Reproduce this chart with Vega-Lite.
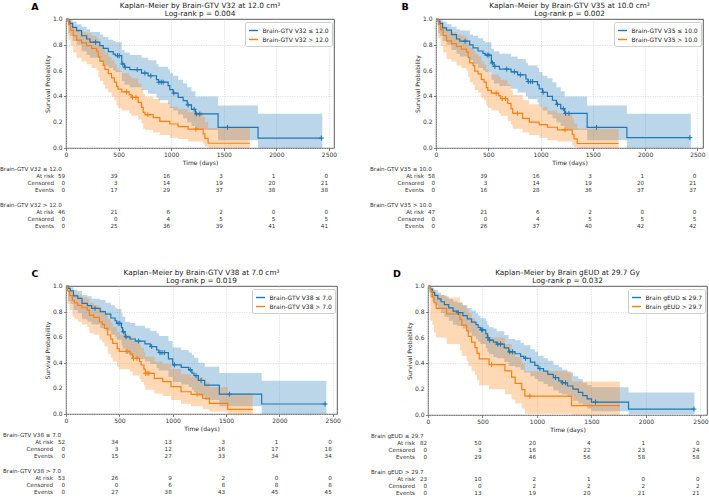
{
  "$schema": "https://vega.github.io/schema/vega-lite/v6.json",
  "padding": {"left": 0, "top": 1, "right": 0, "bottom": 0},
  "config": {
    "font": "DejaVu Sans",
    "view": {"stroke": "#333333", "strokeWidth": 0.8},
    "title": {"fontSize": 7.3, "fontWeight": "normal", "color": "#222222", "offset": -15.5, "lineHeight": 8.5, "frame": "group"},
    "axis": {
      "domain": false, "grid": true, "gridColor": "#cfcfcf", "gridDash": [1.2, 1.2], "gridWidth": 0.6,
      "tickColor": "#333333", "tickSize": 2.5, "tickWidth": 0.6, "labelOverlap": false, "labelFlush": false,
      "labelFontSize": 6, "labelColor": "#333333", "labelPadding": 1,
      "titleFontSize": 6, "titleFontWeight": "normal", "titleColor": "#222222", "titlePadding": 2
    },
    "legend": {
      "orient": "top-right", "offset": 2.5, "padding": 3, "fillColor": "white", "strokeColor": "#cccccc",
      "cornerRadius": 2, "labelFontSize": 6, "labelColor": "#222222", "symbolType": "stroke",
      "symbolSize": 81, "symbolStrokeWidth": 1.4, "rowPadding": 0, "labelOffset": 3.5, "labelLimit": 300
    },
    "text": {"fontSize": 5.6, "color": "#333333"}
  },
  "datasets": {
    "yticks": [{"v":0},{"v":0.2},{"v":0.4},{"v":0.6},{"v":0.8},{"v":1}],
    "kmA": [
      {"g":"le","t":0,"s":1,"lo":1,"hi":1},{"g":"le","t":20,"s":0.983,"lo":0.89,"hi":0.998},{"g":"le","t":38,"s":0.966,"lo":0.87,"hi":0.99},
      {"g":"le","t":63,"s":0.935,"lo":0.83,"hi":0.98},{"g":"le","t":101,"s":0.91,"lo":0.8,"hi":0.96},{"g":"le","t":148,"s":0.87,"lo":0.75,"hi":0.94},
      {"g":"le","t":196,"s":0.845,"lo":0.72,"hi":0.92},{"g":"le","t":228,"s":0.82,"lo":0.7,"hi":0.9},{"g":"le","t":322,"s":0.793,"lo":0.67,"hi":0.88},
      {"g":"le","t":354,"s":0.772,"lo":0.64,"hi":0.86},{"g":"le","t":402,"s":0.747,"lo":0.62,"hi":0.84},{"g":"le","t":449,"s":0.728,"lo":0.6,"hi":0.83},
      {"g":"le","t":470,"s":0.716,"lo":0.59,"hi":0.82},{"g":"le","t":530,"s":0.651,"lo":0.52,"hi":0.76},{"g":"le","t":555,"s":0.625,"lo":0.49,"hi":0.74},
      {"g":"le","t":607,"s":0.607,"lo":0.47,"hi":0.72},{"g":"le","t":718,"s":0.581,"lo":0.45,"hi":0.7},{"g":"le","t":781,"s":0.56,"lo":0.42,"hi":0.68},
      {"g":"le","t":860,"s":0.53,"lo":0.39,"hi":0.65},{"g":"le","t":880,"s":0.51,"lo":0.37,"hi":0.63},{"g":"le","t":971,"s":0.483,"lo":0.34,"hi":0.61},
      {"g":"le","t":987,"s":0.452,"lo":0.31,"hi":0.58},{"g":"le","t":1019,"s":0.426,"lo":0.29,"hi":0.56},{"g":"le","t":1066,"s":0.393,"lo":0.26,"hi":0.53},
      {"g":"le","t":1114,"s":0.367,"lo":0.23,"hi":0.5},{"g":"le","t":1152,"s":0.334,"lo":0.2,"hi":0.47},{"g":"le","t":1193,"s":0.3,"lo":0.17,"hi":0.44},
      {"g":"le","t":1231,"s":0.264,"lo":0.14,"hi":0.4},{"g":"le","t":1446,"s":0.16,"lo":0.06,"hi":0.33},{"g":"le","t":1826,"s":0.077,"lo":0,"hi":0.265},
      {"g":"le","t":2437,"s":0.077,"lo":0,"hi":0.265},
      {"g":"gt","t":0,"s":1,"lo":1,"hi":1},{"g":"gt","t":22,"s":0.957,"lo":0.84,"hi":0.99},{"g":"gt","t":44,"s":0.913,"lo":0.79,"hi":0.97},
      {"g":"gt","t":69,"s":0.87,"lo":0.74,"hi":0.94},{"g":"gt","t":101,"s":0.837,"lo":0.7,"hi":0.92},{"g":"gt","t":148,"s":0.815,"lo":0.67,"hi":0.9},
      {"g":"gt","t":196,"s":0.793,"lo":0.65,"hi":0.89},{"g":"gt","t":243,"s":0.772,"lo":0.62,"hi":0.87},{"g":"gt","t":291,"s":0.75,"lo":0.6,"hi":0.85},
      {"g":"gt","t":307,"s":0.707,"lo":0.55,"hi":0.82},{"g":"gt","t":322,"s":0.674,"lo":0.52,"hi":0.79},{"g":"gt","t":354,"s":0.641,"lo":0.49,"hi":0.77},
      {"g":"gt","t":370,"s":0.609,"lo":0.46,"hi":0.74},{"g":"gt","t":402,"s":0.576,"lo":0.43,"hi":0.71},{"g":"gt","t":433,"s":0.543,"lo":0.4,"hi":0.68},
      {"g":"gt","t":460,"s":0.511,"lo":0.37,"hi":0.65},{"g":"gt","t":481,"s":0.478,"lo":0.33,"hi":0.62},{"g":"gt","t":495,"s":0.457,"lo":0.31,"hi":0.6},
      {"g":"gt","t":530,"s":0.435,"lo":0.29,"hi":0.58},{"g":"gt","t":600,"s":0.414,"lo":0.27,"hi":0.56},{"g":"gt","t":620,"s":0.393,"lo":0.25,"hi":0.54},
      {"g":"gt","t":686,"s":0.354,"lo":0.22,"hi":0.5},{"g":"gt","t":718,"s":0.315,"lo":0.19,"hi":0.46},{"g":"gt","t":734,"s":0.276,"lo":0.15,"hi":0.42},
      {"g":"gt","t":750,"s":0.258,"lo":0.14,"hi":0.4},{"g":"gt","t":829,"s":0.236,"lo":0.12,"hi":0.38},{"g":"gt","t":892,"s":0.207,"lo":0.1,"hi":0.35},
      {"g":"gt","t":987,"s":0.186,"lo":0.08,"hi":0.32},{"g":"gt","t":1066,"s":0.165,"lo":0.07,"hi":0.3},{"g":"gt","t":1161,"s":0.147,"lo":0.05,"hi":0.28},
      {"g":"gt","t":1304,"s":0.11,"lo":0.03,"hi":0.24},{"g":"gt","t":1320,"s":0.074,"lo":0.01,"hi":0.2},{"g":"gt","t":1351,"s":0.037,"lo":0,"hi":0.155},
      {"g":"gt","t":1747,"s":0.037,"lo":0,"hi":0.155}
    ],
    "cenA": [
      {"g":"le","t":281,"s":0.82},{"g":"le","t":490,"s":0.716},{"g":"le","t":506,"s":0.716},{"g":"le","t":540,"s":0.651},{"g":"le","t":563,"s":0.625},
      {"g":"le","t":677,"s":0.607},{"g":"le","t":750,"s":0.581},{"g":"le","t":807,"s":0.56},{"g":"le","t":883,"s":0.51},{"g":"le","t":905,"s":0.51},
      {"g":"le","t":924,"s":0.51},{"g":"le","t":1025,"s":0.426},{"g":"le","t":1161,"s":0.334},{"g":"le","t":1218,"s":0.3},{"g":"le","t":1240,"s":0.264},
      {"g":"le","t":1272,"s":0.264},{"g":"le","t":1535,"s":0.16},{"g":"le","t":2428,"s":0.077},
      {"g":"gt","t":576,"s":0.435},{"g":"gt","t":633,"s":0.393},{"g":"gt","t":665,"s":0.393},{"g":"gt","t":778,"s":0.258},{"g":"gt","t":1234,"s":0.147}
    ],
    "kmB": [
      {"g":"le","t":0,"s":1,"lo":1,"hi":1},{"g":"le","t":20,"s":0.983,"lo":0.89,"hi":0.998},{"g":"le","t":38,"s":0.966,"lo":0.87,"hi":0.99},
      {"g":"le","t":63,"s":0.931,"lo":0.83,"hi":0.98},{"g":"le","t":101,"s":0.914,"lo":0.8,"hi":0.96},{"g":"le","t":148,"s":0.879,"lo":0.76,"hi":0.94},
      {"g":"le","t":196,"s":0.845,"lo":0.73,"hi":0.92},{"g":"le","t":228,"s":0.828,"lo":0.71,"hi":0.91},{"g":"le","t":322,"s":0.8,"lo":0.68,"hi":0.88},
      {"g":"le","t":354,"s":0.776,"lo":0.65,"hi":0.87},{"g":"le","t":402,"s":0.752,"lo":0.62,"hi":0.85},{"g":"le","t":449,"s":0.733,"lo":0.6,"hi":0.83},
      {"g":"le","t":470,"s":0.72,"lo":0.59,"hi":0.82},{"g":"le","t":530,"s":0.66,"lo":0.53,"hi":0.77},{"g":"le","t":555,"s":0.632,"lo":0.5,"hi":0.75},
      {"g":"le","t":607,"s":0.612,"lo":0.48,"hi":0.73},{"g":"le","t":718,"s":0.59,"lo":0.46,"hi":0.71},{"g":"le","t":781,"s":0.567,"lo":0.43,"hi":0.69},
      {"g":"le","t":860,"s":0.535,"lo":0.4,"hi":0.66},{"g":"le","t":880,"s":0.515,"lo":0.38,"hi":0.64},{"g":"le","t":971,"s":0.49,"lo":0.35,"hi":0.62},
      {"g":"le","t":987,"s":0.458,"lo":0.32,"hi":0.59},{"g":"le","t":1019,"s":0.432,"lo":0.29,"hi":0.56},{"g":"le","t":1066,"s":0.4,"lo":0.26,"hi":0.54},
      {"g":"le","t":1114,"s":0.37,"lo":0.23,"hi":0.51},{"g":"le","t":1152,"s":0.338,"lo":0.2,"hi":0.47},{"g":"le","t":1193,"s":0.305,"lo":0.17,"hi":0.44},
      {"g":"le","t":1231,"s":0.268,"lo":0.14,"hi":0.4},{"g":"le","t":1446,"s":0.16,"lo":0.06,"hi":0.33},{"g":"le","t":1826,"s":0.08,"lo":0,"hi":0.265},
      {"g":"le","t":2437,"s":0.08,"lo":0,"hi":0.265},
      {"g":"gt","t":0,"s":1,"lo":1,"hi":1},{"g":"gt","t":22,"s":0.957,"lo":0.85,"hi":0.99},{"g":"gt","t":44,"s":0.915,"lo":0.79,"hi":0.97},
      {"g":"gt","t":69,"s":0.872,"lo":0.74,"hi":0.94},{"g":"gt","t":101,"s":0.83,"lo":0.69,"hi":0.91},{"g":"gt","t":148,"s":0.809,"lo":0.67,"hi":0.9},
      {"g":"gt","t":196,"s":0.787,"lo":0.64,"hi":0.88},{"g":"gt","t":243,"s":0.766,"lo":0.62,"hi":0.87},{"g":"gt","t":291,"s":0.745,"lo":0.6,"hi":0.85},
      {"g":"gt","t":307,"s":0.702,"lo":0.55,"hi":0.81},{"g":"gt","t":322,"s":0.66,"lo":0.51,"hi":0.78},{"g":"gt","t":354,"s":0.638,"lo":0.49,"hi":0.76},
      {"g":"gt","t":370,"s":0.596,"lo":0.45,"hi":0.73},{"g":"gt","t":402,"s":0.574,"lo":0.43,"hi":0.71},{"g":"gt","t":433,"s":0.532,"lo":0.39,"hi":0.67},
      {"g":"gt","t":460,"s":0.511,"lo":0.37,"hi":0.65},{"g":"gt","t":481,"s":0.468,"lo":0.33,"hi":0.61},{"g":"gt","t":495,"s":0.447,"lo":0.31,"hi":0.59},
      {"g":"gt","t":530,"s":0.425,"lo":0.29,"hi":0.57},{"g":"gt","t":600,"s":0.404,"lo":0.27,"hi":0.55},{"g":"gt","t":620,"s":0.383,"lo":0.25,"hi":0.53},
      {"g":"gt","t":686,"s":0.345,"lo":0.21,"hi":0.49},{"g":"gt","t":718,"s":0.306,"lo":0.18,"hi":0.45},{"g":"gt","t":734,"s":0.268,"lo":0.15,"hi":0.41},
      {"g":"gt","t":829,"s":0.23,"lo":0.12,"hi":0.37},{"g":"gt","t":892,"s":0.201,"lo":0.1,"hi":0.34},{"g":"gt","t":987,"s":0.181,"lo":0.08,"hi":0.32},
      {"g":"gt","t":1066,"s":0.161,"lo":0.06,"hi":0.29},{"g":"gt","t":1161,"s":0.141,"lo":0.05,"hi":0.27},{"g":"gt","t":1304,"s":0.105,"lo":0.02,"hi":0.23},
      {"g":"gt","t":1320,"s":0.07,"lo":0.01,"hi":0.19},{"g":"gt","t":1351,"s":0.035,"lo":0,"hi":0.15},{"g":"gt","t":1747,"s":0.035,"lo":0,"hi":0.15}
    ],
    "cenB": [
      {"g":"le","t":278,"s":0.828},{"g":"le","t":490,"s":0.72},{"g":"le","t":506,"s":0.72},{"g":"le","t":540,"s":0.66},{"g":"le","t":563,"s":0.632},
      {"g":"le","t":677,"s":0.612},{"g":"le","t":750,"s":0.59},{"g":"le","t":807,"s":0.567},{"g":"le","t":883,"s":0.515},{"g":"le","t":905,"s":0.515},
      {"g":"le","t":924,"s":0.515},{"g":"le","t":1025,"s":0.432},{"g":"le","t":1161,"s":0.338},{"g":"le","t":1218,"s":0.305},{"g":"le","t":1240,"s":0.268},
      {"g":"le","t":1272,"s":0.268},{"g":"le","t":1535,"s":0.16},{"g":"le","t":2428,"s":0.08},
      {"g":"gt","t":576,"s":0.425},{"g":"gt","t":633,"s":0.383},{"g":"gt","t":665,"s":0.383},{"g":"gt","t":778,"s":0.268},{"g":"gt","t":1234,"s":0.141}
    ],
    "kmC": [
      {"g":"le","t":0,"s":1,"lo":1,"hi":1},{"g":"le","t":20,"s":0.981,"lo":0.88,"hi":0.997},{"g":"le","t":40,"s":0.962,"lo":0.86,"hi":0.99},
      {"g":"le","t":70,"s":0.923,"lo":0.81,"hi":0.97},{"g":"le","t":110,"s":0.904,"lo":0.79,"hi":0.96},{"g":"le","t":150,"s":0.865,"lo":0.74,"hi":0.93},
      {"g":"le","t":200,"s":0.846,"lo":0.72,"hi":0.92},{"g":"le","t":240,"s":0.825,"lo":0.7,"hi":0.9},{"g":"le","t":320,"s":0.8,"lo":0.67,"hi":0.89},
      {"g":"le","t":370,"s":0.78,"lo":0.65,"hi":0.87},{"g":"le","t":420,"s":0.75,"lo":0.62,"hi":0.85},{"g":"le","t":460,"s":0.728,"lo":0.6,"hi":0.83},
      {"g":"le","t":475,"s":0.708,"lo":0.58,"hi":0.82},{"g":"le","t":520,"s":0.675,"lo":0.54,"hi":0.79},{"g":"le","t":530,"s":0.642,"lo":0.51,"hi":0.76},
      {"g":"le","t":555,"s":0.603,"lo":0.47,"hi":0.72},{"g":"le","t":600,"s":0.586,"lo":0.45,"hi":0.71},{"g":"le","t":650,"s":0.57,"lo":0.43,"hi":0.69},
      {"g":"le","t":740,"s":0.548,"lo":0.41,"hi":0.67},{"g":"le","t":790,"s":0.527,"lo":0.39,"hi":0.65},{"g":"le","t":850,"s":0.5,"lo":0.36,"hi":0.63},
      {"g":"le","t":870,"s":0.48,"lo":0.34,"hi":0.61},{"g":"le","t":960,"s":0.43,"lo":0.29,"hi":0.57},{"g":"le","t":1000,"s":0.384,"lo":0.25,"hi":0.52},
      {"g":"le","t":1080,"s":0.365,"lo":0.23,"hi":0.5},{"g":"le","t":1150,"s":0.345,"lo":0.21,"hi":0.48},{"g":"le","t":1180,"s":0.32,"lo":0.19,"hi":0.46},
      {"g":"le","t":1200,"s":0.3,"lo":0.17,"hi":0.44},{"g":"le","t":1240,"s":0.262,"lo":0.14,"hi":0.4},{"g":"le","t":1300,"s":0.225,"lo":0.11,"hi":0.37},
      {"g":"le","t":1437,"s":0.155,"lo":0.06,"hi":0.32},{"g":"le","t":1834,"s":0.078,"lo":0,"hi":0.26},{"g":"le","t":2440,"s":0.078,"lo":0,"hi":0.26},
      {"g":"gt","t":0,"s":1,"lo":1,"hi":1},{"g":"gt","t":15,"s":0.962,"lo":0.86,"hi":0.99},{"g":"gt","t":35,"s":0.925,"lo":0.81,"hi":0.97},
      {"g":"gt","t":60,"s":0.887,"lo":0.76,"hi":0.95},{"g":"gt","t":80,"s":0.868,"lo":0.74,"hi":0.94},{"g":"gt","t":110,"s":0.849,"lo":0.72,"hi":0.93},
      {"g":"gt","t":150,"s":0.83,"lo":0.7,"hi":0.91},{"g":"gt","t":200,"s":0.811,"lo":0.68,"hi":0.9},{"g":"gt","t":219,"s":0.773,"lo":0.63,"hi":0.87},
      {"g":"gt","t":260,"s":0.755,"lo":0.62,"hi":0.85},{"g":"gt","t":313,"s":0.72,"lo":0.58,"hi":0.83},{"g":"gt","t":340,"s":0.7,"lo":0.56,"hi":0.81},
      {"g":"gt","t":360,"s":0.669,"lo":0.53,"hi":0.78},{"g":"gt","t":391,"s":0.617,"lo":0.47,"hi":0.74},{"g":"gt","t":420,"s":0.585,"lo":0.44,"hi":0.71},
      {"g":"gt","t":438,"s":0.552,"lo":0.41,"hi":0.68},{"g":"gt","t":480,"s":0.51,"lo":0.37,"hi":0.64},{"g":"gt","t":500,"s":0.49,"lo":0.35,"hi":0.62},
      {"g":"gt","t":600,"s":0.47,"lo":0.33,"hi":0.6},{"g":"gt","t":625,"s":0.435,"lo":0.3,"hi":0.57},{"g":"gt","t":690,"s":0.41,"lo":0.27,"hi":0.54},
      {"g":"gt","t":703,"s":0.383,"lo":0.25,"hi":0.52},{"g":"gt","t":730,"s":0.35,"lo":0.22,"hi":0.48},{"g":"gt","t":744,"s":0.318,"lo":0.19,"hi":0.45},
      {"g":"gt","t":828,"s":0.279,"lo":0.16,"hi":0.41},{"g":"gt","t":906,"s":0.253,"lo":0.14,"hi":0.39},{"g":"gt","t":984,"s":0.214,"lo":0.11,"hi":0.35},
      {"g":"gt","t":1078,"s":0.174,"lo":0.08,"hi":0.31},{"g":"gt","t":1172,"s":0.154,"lo":0.06,"hi":0.29},{"g":"gt","t":1281,"s":0.122,"lo":0.04,"hi":0.25},
      {"g":"gt","t":1344,"s":0.083,"lo":0.02,"hi":0.21},{"g":"gt","t":1516,"s":0.036,"lo":0,"hi":0.16},{"g":"gt","t":1750,"s":0.036,"lo":0,"hi":0.16}
    ],
    "cenC": [
      {"g":"le","t":272,"s":0.825},{"g":"le","t":489,"s":0.708},{"g":"le","t":505,"s":0.708},{"g":"le","t":538,"s":0.642},{"g":"le","t":563,"s":0.603},
      {"g":"le","t":681,"s":0.57},{"g":"le","t":803,"s":0.527},{"g":"le","t":881,"s":0.48},{"g":"le","t":900,"s":0.48},{"g":"le","t":922,"s":0.48},
      {"g":"le","t":1016,"s":0.384},{"g":"le","t":1166,"s":0.345},{"g":"le","t":1219,"s":0.3},{"g":"le","t":1266,"s":0.262},{"g":"le","t":1532,"s":0.155},
      {"g":"le","t":2428,"s":0.078},
      {"g":"gt","t":573,"s":0.49},{"g":"gt","t":633,"s":0.435},{"g":"gt","t":665,"s":0.435},{"g":"gt","t":745,"s":0.318},{"g":"gt","t":760,"s":0.318},
      {"g":"gt","t":776,"s":0.318},{"g":"gt","t":1228,"s":0.154}
    ],
    "kmD": [
      {"g":"le","t":0,"s":1,"lo":1,"hi":1},{"g":"le","t":20,"s":0.976,"lo":0.91,"hi":0.99},{"g":"le","t":40,"s":0.951,"lo":0.88,"hi":0.98},
      {"g":"le","t":60,"s":0.927,"lo":0.85,"hi":0.97},{"g":"le","t":90,"s":0.9,"lo":0.82,"hi":0.95},{"g":"le","t":120,"s":0.878,"lo":0.79,"hi":0.93},
      {"g":"le","t":150,"s":0.855,"lo":0.76,"hi":0.92},{"g":"le","t":190,"s":0.83,"lo":0.73,"hi":0.9},{"g":"le","t":230,"s":0.805,"lo":0.7,"hi":0.88},
      {"g":"le","t":270,"s":0.793,"lo":0.69,"hi":0.87},{"g":"le","t":320,"s":0.77,"lo":0.67,"hi":0.85},{"g":"le","t":360,"s":0.745,"lo":0.64,"hi":0.83},
      {"g":"le","t":400,"s":0.72,"lo":0.61,"hi":0.81},{"g":"le","t":440,"s":0.7,"lo":0.59,"hi":0.79},{"g":"le","t":460,"s":0.68,"lo":0.57,"hi":0.77},
      {"g":"le","t":480,"s":0.66,"lo":0.55,"hi":0.75},{"g":"le","t":530,"s":0.63,"lo":0.52,"hi":0.73},{"g":"le","t":545,"s":0.6,"lo":0.49,"hi":0.7},
      {"g":"le","t":560,"s":0.58,"lo":0.47,"hi":0.68},{"g":"le","t":600,"s":0.565,"lo":0.45,"hi":0.67},{"g":"le","t":630,"s":0.55,"lo":0.44,"hi":0.65},
      {"g":"le","t":700,"s":0.52,"lo":0.41,"hi":0.62},{"g":"le","t":740,"s":0.49,"lo":0.38,"hi":0.59},{"g":"le","t":800,"s":0.475,"lo":0.37,"hi":0.58},
      {"g":"le","t":850,"s":0.455,"lo":0.35,"hi":0.56},{"g":"le","t":880,"s":0.44,"lo":0.33,"hi":0.54},{"g":"le","t":940,"s":0.41,"lo":0.3,"hi":0.51},
      {"g":"le","t":980,"s":0.385,"lo":0.28,"hi":0.49},{"g":"le","t":1010,"s":0.36,"lo":0.26,"hi":0.46},{"g":"le","t":1060,"s":0.34,"lo":0.24,"hi":0.44},
      {"g":"le","t":1100,"s":0.315,"lo":0.22,"hi":0.42},{"g":"le","t":1150,"s":0.29,"lo":0.19,"hi":0.39},{"g":"le","t":1200,"s":0.265,"lo":0.17,"hi":0.37},
      {"g":"le","t":1230,"s":0.25,"lo":0.16,"hi":0.35},{"g":"le","t":1280,"s":0.225,"lo":0.14,"hi":0.33},{"g":"le","t":1330,"s":0.2,"lo":0.11,"hi":0.3},
      {"g":"le","t":1380,"s":0.175,"lo":0.09,"hi":0.28},{"g":"le","t":1420,"s":0.15,"lo":0.07,"hi":0.25},{"g":"le","t":1460,"s":0.125,"lo":0.05,"hi":0.23},
      {"g":"le","t":1500,"s":0.1,"lo":0.03,"hi":0.215},{"g":"le","t":1840,"s":0.046,"lo":0.005,"hi":0.175},{"g":"le","t":2445,"s":0.046,"lo":0.005,"hi":0.175},
      {"g":"gt","t":0,"s":1,"lo":1,"hi":1},{"g":"gt","t":20,"s":0.957,"lo":0.73,"hi":0.99},{"g":"gt","t":40,"s":0.913,"lo":0.7,"hi":0.98},
      {"g":"gt","t":55,"s":0.87,"lo":0.64,"hi":0.96},{"g":"gt","t":75,"s":0.826,"lo":0.6,"hi":0.93},{"g":"gt","t":171,"s":0.783,"lo":0.55,"hi":0.91},
      {"g":"gt","t":293,"s":0.739,"lo":0.5,"hi":0.88},{"g":"gt","t":310,"s":0.696,"lo":0.46,"hi":0.85},{"g":"gt","t":354,"s":0.652,"lo":0.42,"hi":0.82},
      {"g":"gt","t":370,"s":0.609,"lo":0.38,"hi":0.79},{"g":"gt","t":400,"s":0.565,"lo":0.34,"hi":0.75},{"g":"gt","t":431,"s":0.522,"lo":0.31,"hi":0.72},
      {"g":"gt","t":450,"s":0.478,"lo":0.27,"hi":0.68},{"g":"gt","t":470,"s":0.435,"lo":0.23,"hi":0.64},{"g":"gt","t":560,"s":0.391,"lo":0.2,"hi":0.6},
      {"g":"gt","t":706,"s":0.342,"lo":0.16,"hi":0.55},{"g":"gt","t":767,"s":0.293,"lo":0.12,"hi":0.5},{"g":"gt","t":800,"s":0.245,"lo":0.09,"hi":0.45},
      {"g":"gt","t":860,"s":0.196,"lo":0.05,"hi":0.4},{"g":"gt","t":889,"s":0.147,"lo":0.01,"hi":0.34},{"g":"gt","t":1317,"s":0.073,"lo":0,"hi":0.26},
      {"g":"gt","t":1760,"s":0.073,"lo":0,"hi":0.26}
    ],
    "cenD": [
      {"g":"le","t":278,"s":0.793},{"g":"le","t":492,"s":0.66},{"g":"le","t":502,"s":0.66},{"g":"le","t":550,"s":0.6},{"g":"le","t":565,"s":0.58},
      {"g":"le","t":640,"s":0.55},{"g":"le","t":666,"s":0.55},{"g":"le","t":750,"s":0.49},{"g":"le","t":775,"s":0.49},{"g":"le","t":895,"s":0.44},
      {"g":"le","t":1027,"s":0.36},{"g":"le","t":1170,"s":0.29},{"g":"le","t":1235,"s":0.25},{"g":"le","t":1262,"s":0.25},{"g":"le","t":1537,"s":0.1},
      {"g":"le","t":2440,"s":0.046},
      {"g":"gt","t":584,"s":0.391},{"g":"gt","t":935,"s":0.147}
    ],
    "tabA": [
      {"t":0,"r":1,"n":59},{"t":500,"r":1,"n":39},{"t":1000,"r":1,"n":16},{"t":1500,"r":1,"n":3},{"t":2000,"r":1,"n":1},{"t":2500,"r":1,"n":0},
      {"t":0,"r":2,"n":0},{"t":500,"r":2,"n":3},{"t":1000,"r":2,"n":14},{"t":1500,"r":2,"n":19},{"t":2000,"r":2,"n":20},{"t":2500,"r":2,"n":21},
      {"t":0,"r":3,"n":0},{"t":500,"r":3,"n":17},{"t":1000,"r":3,"n":29},{"t":1500,"r":3,"n":37},{"t":2000,"r":3,"n":38},{"t":2500,"r":3,"n":38},
      {"t":0,"r":6,"n":46},{"t":500,"r":6,"n":21},{"t":1000,"r":6,"n":6},{"t":1500,"r":6,"n":2},{"t":2000,"r":6,"n":0},{"t":2500,"r":6,"n":0},
      {"t":0,"r":7,"n":0},{"t":500,"r":7,"n":0},{"t":1000,"r":7,"n":4},{"t":1500,"r":7,"n":5},{"t":2000,"r":7,"n":5},{"t":2500,"r":7,"n":5},
      {"t":0,"r":8,"n":0},{"t":500,"r":8,"n":25},{"t":1000,"r":8,"n":36},{"t":1500,"r":8,"n":39},{"t":2000,"r":8,"n":41},{"t":2500,"r":8,"n":41}
    ],
    "tabB": [
      {"t":0,"r":1,"n":58},{"t":500,"r":1,"n":39},{"t":1000,"r":1,"n":16},{"t":1500,"r":1,"n":3},{"t":2000,"r":1,"n":1},{"t":2500,"r":1,"n":0},
      {"t":0,"r":2,"n":0},{"t":500,"r":2,"n":3},{"t":1000,"r":2,"n":14},{"t":1500,"r":2,"n":19},{"t":2000,"r":2,"n":20},{"t":2500,"r":2,"n":21},
      {"t":0,"r":3,"n":0},{"t":500,"r":3,"n":16},{"t":1000,"r":3,"n":28},{"t":1500,"r":3,"n":36},{"t":2000,"r":3,"n":37},{"t":2500,"r":3,"n":37},
      {"t":0,"r":6,"n":47},{"t":500,"r":6,"n":21},{"t":1000,"r":6,"n":6},{"t":1500,"r":6,"n":2},{"t":2000,"r":6,"n":0},{"t":2500,"r":6,"n":0},
      {"t":0,"r":7,"n":0},{"t":500,"r":7,"n":0},{"t":1000,"r":7,"n":4},{"t":1500,"r":7,"n":5},{"t":2000,"r":7,"n":5},{"t":2500,"r":7,"n":5},
      {"t":0,"r":8,"n":0},{"t":500,"r":8,"n":26},{"t":1000,"r":8,"n":37},{"t":1500,"r":8,"n":40},{"t":2000,"r":8,"n":42},{"t":2500,"r":8,"n":42}
    ],
    "tabC": [
      {"t":0,"r":1,"n":52},{"t":500,"r":1,"n":34},{"t":1000,"r":1,"n":13},{"t":1500,"r":1,"n":3},{"t":2000,"r":1,"n":1},{"t":2500,"r":1,"n":0},
      {"t":0,"r":2,"n":0},{"t":500,"r":2,"n":3},{"t":1000,"r":2,"n":12},{"t":1500,"r":2,"n":16},{"t":2000,"r":2,"n":17},{"t":2500,"r":2,"n":18},
      {"t":0,"r":3,"n":0},{"t":500,"r":3,"n":15},{"t":1000,"r":3,"n":27},{"t":1500,"r":3,"n":33},{"t":2000,"r":3,"n":34},{"t":2500,"r":3,"n":34},
      {"t":0,"r":6,"n":53},{"t":500,"r":6,"n":26},{"t":1000,"r":6,"n":9},{"t":1500,"r":6,"n":2},{"t":2000,"r":6,"n":0},{"t":2500,"r":6,"n":0},
      {"t":0,"r":7,"n":0},{"t":500,"r":7,"n":0},{"t":1000,"r":7,"n":6},{"t":1500,"r":7,"n":8},{"t":2000,"r":7,"n":8},{"t":2500,"r":7,"n":8},
      {"t":0,"r":8,"n":0},{"t":500,"r":8,"n":27},{"t":1000,"r":8,"n":38},{"t":1500,"r":8,"n":43},{"t":2000,"r":8,"n":45},{"t":2500,"r":8,"n":45}
    ],
    "tabD": [
      {"t":0,"r":1,"n":82},{"t":500,"r":1,"n":50},{"t":1000,"r":1,"n":20},{"t":1500,"r":1,"n":4},{"t":2000,"r":1,"n":1},{"t":2500,"r":1,"n":0},
      {"t":0,"r":2,"n":0},{"t":500,"r":2,"n":3},{"t":1000,"r":2,"n":16},{"t":1500,"r":2,"n":22},{"t":2000,"r":2,"n":23},{"t":2500,"r":2,"n":24},
      {"t":0,"r":3,"n":0},{"t":500,"r":3,"n":29},{"t":1000,"r":3,"n":46},{"t":1500,"r":3,"n":56},{"t":2000,"r":3,"n":58},{"t":2500,"r":3,"n":58},
      {"t":0,"r":6,"n":23},{"t":500,"r":6,"n":10},{"t":1000,"r":6,"n":2},{"t":1500,"r":6,"n":1},{"t":2000,"r":6,"n":0},{"t":2500,"r":6,"n":0},
      {"t":0,"r":7,"n":0},{"t":500,"r":7,"n":0},{"t":1000,"r":7,"n":2},{"t":1500,"r":7,"n":2},{"t":2000,"r":7,"n":2},{"t":2500,"r":7,"n":2},
      {"t":0,"r":8,"n":0},{"t":500,"r":8,"n":13},{"t":1000,"r":8,"n":19},{"t":1500,"r":8,"n":20},{"t":2000,"r":8,"n":21},{"t":2500,"r":8,"n":21}
    ],
    "labA": [
      {"r":0,"k":"h","txt":"Brain-GTV V32 ≤ 12.0"},{"r":1,"k":"r","txt":"At risk"},{"r":2,"k":"r","txt":"Censored"},{"r":3,"k":"r","txt":"Events"},
      {"r":5,"k":"h","txt":"Brain-GTV V32 > 12.0"},{"r":6,"k":"r","txt":"At risk"},{"r":7,"k":"r","txt":"Censored"},{"r":8,"k":"r","txt":"Events"}
    ],
    "labB": [
      {"r":0,"k":"h","txt":"Brain-GTV V35 ≤ 10.0"},{"r":1,"k":"r","txt":"At risk"},{"r":2,"k":"r","txt":"Censored"},{"r":3,"k":"r","txt":"Events"},
      {"r":5,"k":"h","txt":"Brain-GTV V35 > 10.0"},{"r":6,"k":"r","txt":"At risk"},{"r":7,"k":"r","txt":"Censored"},{"r":8,"k":"r","txt":"Events"}
    ],
    "labC": [
      {"r":0,"k":"h","txt":"Brain-GTV V38 ≤ 7.0"},{"r":1,"k":"r","txt":"At risk"},{"r":2,"k":"r","txt":"Censored"},{"r":3,"k":"r","txt":"Events"},
      {"r":5,"k":"h","txt":"Brain-GTV V38 > 7.0"},{"r":6,"k":"r","txt":"At risk"},{"r":7,"k":"r","txt":"Censored"},{"r":8,"k":"r","txt":"Events"}
    ],
    "labD": [
      {"r":0,"k":"h","txt":"Brain gEUD ≤ 29.7"},{"r":1,"k":"r","txt":"At risk"},{"r":2,"k":"r","txt":"Censored"},{"r":3,"k":"r","txt":"Events"},
      {"r":5,"k":"h","txt":"Brain gEUD > 29.7"},{"r":6,"k":"r","txt":"At risk"},{"r":7,"k":"r","txt":"Censored"},{"r":8,"k":"r","txt":"Events"}
    ],
    "letters": [{"p":"A"},{"p":"B"},{"p":"C"},{"p":"D"}]
  },
  "resolve": {"scale": {"color": "independent"}, "legend": {"color": "independent"}},
  "spacing": 38,
  "vconcat": [
    {
      "spacing": 33,
      "resolve": {"scale": {"color": "independent"}, "legend": {"color": "independent"}},
      "hconcat": [
        {
          "spacing": 1,
          "resolve": {"scale": {"color": "independent"}, "legend": {"color": "independent"}},
          "vconcat": [
            {
              "width": 268, "height": 129,
              "title": {"text": ["Kaplan–Meier by Brain-GTV V32 at 12.0 cm³", "Log-rank p = 0.004"]},
              "layer": [
                {"data": {"name": "kmA"}, "transform": [{"filter": "datum.g === 'le'"}], "mark": {"type": "area", "interpolate": "step-after", "opacity": 0.3, "fill": "#1f77b4"},
                 "encoding": {"x": {"field": "t", "type": "quantitative", "scale": {"domain": [0, 2548], "nice": false}, "axis": {"values": [0, 500, 1000, 1500, 2000, 2500], "format": "d"}, "title": "Time (days)"},
                              "y": {"field": "lo", "type": "quantitative", "scale": {"domain": [0, 1], "nice": false}, "axis": {"values": [0, 0.2, 0.4, 0.6, 0.8, 1], "labels": false, "titlePadding": 13}, "title": "Survival Probability"},
                              "y2": {"field": "hi"}}},
                {"data": {"name": "kmA"}, "transform": [{"filter": "datum.g === 'gt'"}], "mark": {"type": "area", "interpolate": "step-after", "opacity": 0.3, "fill": "#ff7f0e"},
                 "encoding": {"x": {"field": "t", "type": "quantitative"}, "y": {"field": "lo", "type": "quantitative"}, "y2": {"field": "hi"}}},
                {"data": {"name": "kmA"}, "mark": {"type": "line", "interpolate": "step-after", "strokeWidth": 1.2},
                 "encoding": {"x": {"field": "t", "type": "quantitative"}, "y": {"field": "s", "type": "quantitative"},
                              "color": {"field": "g", "type": "nominal", "scale": {"domain": ["le", "gt"], "range": ["#1f77b4", "#ff7f0e"]},
                                        "legend": {"title": null, "labelExpr": "datum.value === 'le' ? 'Brain-GTV V32 ≤ 12.0' : 'Brain-GTV V32 > 12.0'"}}}},
                {"data": {"name": "cenA"}, "transform": [{"filter": "datum.g === 'le'"}], "mark": {"type": "point", "shape": "M-1,0H1M0,-1V1", "filled": false, "size": 25, "strokeWidth": 1, "opacity": 1, "stroke": "#1f77b4"},
                 "encoding": {"x": {"field": "t", "type": "quantitative"}, "y": {"field": "s", "type": "quantitative"}}},
                {"data": {"name": "cenA"}, "transform": [{"filter": "datum.g === 'gt'"}], "mark": {"type": "point", "shape": "M-1,0H1M0,-1V1", "filled": false, "size": 25, "strokeWidth": 1, "opacity": 1, "stroke": "#ff7f0e"},
                 "encoding": {"x": {"field": "t", "type": "quantitative"}, "y": {"field": "s", "type": "quantitative"}}},
                {"data": {"name": "yticks"}, "mark": {"type": "text", "align": "right", "baseline": "middle", "dx": -3.5, "fontSize": 6, "fill": "#333333"},
                 "encoding": {"x": {"datum": 0, "type": "quantitative"}, "y": {"field": "v", "type": "quantitative"}, "text": {"field": "v", "type": "quantitative", "format": ".1f"}}},
                {"data": {"name": "letters"}, "transform": [{"filter": "datum.p === 'A'"}],
                 "mark": {"type": "text", "dx": -31, "dy": -12, "fontSize": 9.5, "fontWeight": "bold", "fill": "#000000", "align": "center", "baseline": "middle"},
                 "encoding": {"x": {"datum": 0, "type": "quantitative"}, "y": {"datum": 1, "type": "quantitative"}, "text": {"field": "p", "type": "nominal"}}}
              ]
            },
            {
              "width": 268, "height": 57, "view": {"stroke": null},
              "layer": [
                {"data": {"name": "tabA"}, "mark": {"type": "text", "align": "right", "dx": -1, "baseline": "middle"},
                 "encoding": {"x": {"field": "t", "type": "quantitative", "scale": {"domain": [0, 2548], "nice": false}, "axis": null},
                              "y": {"field": "r", "type": "quantitative", "scale": {"domain": [0, 8], "reverse": true, "nice": false}, "axis": null},
                              "text": {"field": "n"}}},
                {"data": {"name": "labA"}, "transform": [{"filter": "datum.k === 'h'"}], "mark": {"type": "text", "align": "left", "dx": -66, "baseline": "middle"},
                 "encoding": {"x": {"datum": 0, "type": "quantitative"}, "y": {"field": "r", "type": "quantitative"}, "text": {"field": "txt"}}},
                {"data": {"name": "labA"}, "transform": [{"filter": "datum.k === 'r'"}], "mark": {"type": "text", "align": "right", "dx": -12, "baseline": "middle"},
                 "encoding": {"x": {"datum": 0, "type": "quantitative"}, "y": {"field": "r", "type": "quantitative"}, "text": {"field": "txt"}}}
              ]
            }
          ]
        },
        {
          "spacing": 1,
          "resolve": {"scale": {"color": "independent"}, "legend": {"color": "independent"}},
          "vconcat": [
            {
              "width": 267, "height": 129,
              "title": {"text": ["Kaplan–Meier by Brain-GTV V35 at 10.0 cm³", "Log-rank p = 0.002"]},
              "layer": [
                {"data": {"name": "kmB"}, "transform": [{"filter": "datum.g === 'le'"}], "mark": {"type": "area", "interpolate": "step-after", "opacity": 0.3, "fill": "#1f77b4"},
                 "encoding": {"x": {"field": "t", "type": "quantitative", "scale": {"domain": [0, 2554], "nice": false}, "axis": {"values": [0, 500, 1000, 1500, 2000, 2500], "format": "d"}, "title": "Time (days)"},
                              "y": {"field": "lo", "type": "quantitative", "scale": {"domain": [0, 1], "nice": false}, "axis": {"values": [0, 0.2, 0.4, 0.6, 0.8, 1], "labels": false, "titlePadding": 13}, "title": "Survival Probability"},
                              "y2": {"field": "hi"}}},
                {"data": {"name": "kmB"}, "transform": [{"filter": "datum.g === 'gt'"}], "mark": {"type": "area", "interpolate": "step-after", "opacity": 0.3, "fill": "#ff7f0e"},
                 "encoding": {"x": {"field": "t", "type": "quantitative"}, "y": {"field": "lo", "type": "quantitative"}, "y2": {"field": "hi"}}},
                {"data": {"name": "kmB"}, "mark": {"type": "line", "interpolate": "step-after", "strokeWidth": 1.2},
                 "encoding": {"x": {"field": "t", "type": "quantitative"}, "y": {"field": "s", "type": "quantitative"},
                              "color": {"field": "g", "type": "nominal", "scale": {"domain": ["le", "gt"], "range": ["#1f77b4", "#ff7f0e"]},
                                        "legend": {"title": null, "labelExpr": "datum.value === 'le' ? 'Brain-GTV V35 ≤ 10.0' : 'Brain-GTV V35 > 10.0'"}}}},
                {"data": {"name": "cenB"}, "transform": [{"filter": "datum.g === 'le'"}], "mark": {"type": "point", "shape": "M-1,0H1M0,-1V1", "filled": false, "size": 25, "strokeWidth": 1, "opacity": 1, "stroke": "#1f77b4"},
                 "encoding": {"x": {"field": "t", "type": "quantitative"}, "y": {"field": "s", "type": "quantitative"}}},
                {"data": {"name": "cenB"}, "transform": [{"filter": "datum.g === 'gt'"}], "mark": {"type": "point", "shape": "M-1,0H1M0,-1V1", "filled": false, "size": 25, "strokeWidth": 1, "opacity": 1, "stroke": "#ff7f0e"},
                 "encoding": {"x": {"field": "t", "type": "quantitative"}, "y": {"field": "s", "type": "quantitative"}}},
                {"data": {"name": "yticks"}, "mark": {"type": "text", "align": "right", "baseline": "middle", "dx": -3.5, "fontSize": 6, "fill": "#333333"},
                 "encoding": {"x": {"datum": 0, "type": "quantitative"}, "y": {"field": "v", "type": "quantitative"}, "text": {"field": "v", "type": "quantitative", "format": ".1f"}}},
                {"data": {"name": "letters"}, "transform": [{"filter": "datum.p === 'B'"}],
                 "mark": {"type": "text", "dx": -31, "dy": -12, "fontSize": 9.5, "fontWeight": "bold", "fill": "#000000", "align": "center", "baseline": "middle"},
                 "encoding": {"x": {"datum": 0, "type": "quantitative"}, "y": {"datum": 1, "type": "quantitative"}, "text": {"field": "p", "type": "nominal"}}}
              ]
            },
            {
              "width": 267, "height": 57, "view": {"stroke": null},
              "layer": [
                {"data": {"name": "tabB"}, "mark": {"type": "text", "align": "right", "dx": -1, "baseline": "middle"},
                 "encoding": {"x": {"field": "t", "type": "quantitative", "scale": {"domain": [0, 2554], "nice": false}, "axis": null},
                              "y": {"field": "r", "type": "quantitative", "scale": {"domain": [0, 8], "reverse": true, "nice": false}, "axis": null},
                              "text": {"field": "n"}}},
                {"data": {"name": "labB"}, "transform": [{"filter": "datum.k === 'h'"}], "mark": {"type": "text", "align": "left", "dx": -66, "baseline": "middle"},
                 "encoding": {"x": {"datum": 0, "type": "quantitative"}, "y": {"field": "r", "type": "quantitative"}, "text": {"field": "txt"}}},
                {"data": {"name": "labB"}, "transform": [{"filter": "datum.k === 'r'"}], "mark": {"type": "text", "align": "right", "dx": -12, "baseline": "middle"},
                 "encoding": {"x": {"datum": 0, "type": "quantitative"}, "y": {"field": "r", "type": "quantitative"}, "text": {"field": "txt"}}}
              ]
            }
          ]
        }
      ]
    },
    {
      "spacing": 30,
      "resolve": {"scale": {"color": "independent"}, "legend": {"color": "independent"}},
      "hconcat": [
        {
          "spacing": 1,
          "resolve": {"scale": {"color": "independent"}, "legend": {"color": "independent"}},
          "vconcat": [
            {
              "width": 271, "height": 128,
              "title": {"text": ["Kaplan–Meier by Brain-GTV V38 at 7.0 cm³", "Log-rank p = 0.019"]},
              "layer": [
                {"data": {"name": "kmC"}, "transform": [{"filter": "datum.g === 'le'"}], "mark": {"type": "area", "interpolate": "step-after", "opacity": 0.3, "fill": "#1f77b4"},
                 "encoding": {"x": {"field": "t", "type": "quantitative", "scale": {"domain": [0, 2540], "nice": false}, "axis": {"values": [0, 500, 1000, 1500, 2000, 2500], "format": "d"}, "title": "Time (days)"},
                              "y": {"field": "lo", "type": "quantitative", "scale": {"domain": [0, 1], "nice": false}, "axis": {"values": [0, 0.2, 0.4, 0.6, 0.8, 1], "labels": false, "titlePadding": 13}, "title": "Survival Probability"},
                              "y2": {"field": "hi"}}},
                {"data": {"name": "kmC"}, "transform": [{"filter": "datum.g === 'gt'"}], "mark": {"type": "area", "interpolate": "step-after", "opacity": 0.3, "fill": "#ff7f0e"},
                 "encoding": {"x": {"field": "t", "type": "quantitative"}, "y": {"field": "lo", "type": "quantitative"}, "y2": {"field": "hi"}}},
                {"data": {"name": "kmC"}, "mark": {"type": "line", "interpolate": "step-after", "strokeWidth": 1.2},
                 "encoding": {"x": {"field": "t", "type": "quantitative"}, "y": {"field": "s", "type": "quantitative"},
                              "color": {"field": "g", "type": "nominal", "scale": {"domain": ["le", "gt"], "range": ["#1f77b4", "#ff7f0e"]},
                                        "legend": {"title": null, "labelExpr": "datum.value === 'le' ? 'Brain-GTV V38 ≤ 7.0' : 'Brain-GTV V38 > 7.0'"}}}},
                {"data": {"name": "cenC"}, "transform": [{"filter": "datum.g === 'le'"}], "mark": {"type": "point", "shape": "M-1,0H1M0,-1V1", "filled": false, "size": 25, "strokeWidth": 1, "opacity": 1, "stroke": "#1f77b4"},
                 "encoding": {"x": {"field": "t", "type": "quantitative"}, "y": {"field": "s", "type": "quantitative"}}},
                {"data": {"name": "cenC"}, "transform": [{"filter": "datum.g === 'gt'"}], "mark": {"type": "point", "shape": "M-1,0H1M0,-1V1", "filled": false, "size": 25, "strokeWidth": 1, "opacity": 1, "stroke": "#ff7f0e"},
                 "encoding": {"x": {"field": "t", "type": "quantitative"}, "y": {"field": "s", "type": "quantitative"}}},
                {"data": {"name": "yticks"}, "mark": {"type": "text", "align": "right", "baseline": "middle", "dx": -3.5, "fontSize": 6, "fill": "#333333"},
                 "encoding": {"x": {"datum": 0, "type": "quantitative"}, "y": {"field": "v", "type": "quantitative"}, "text": {"field": "v", "type": "quantitative", "format": ".1f"}}},
                {"data": {"name": "letters"}, "transform": [{"filter": "datum.p === 'C'"}],
                 "mark": {"type": "text", "dx": -31, "dy": -12, "fontSize": 9.5, "fontWeight": "bold", "fill": "#000000", "align": "center", "baseline": "middle"},
                 "encoding": {"x": {"datum": 0, "type": "quantitative"}, "y": {"datum": 1, "type": "quantitative"}, "text": {"field": "p", "type": "nominal"}}}
              ]
            },
            {
              "width": 271, "height": 57, "view": {"stroke": null},
              "layer": [
                {"data": {"name": "tabC"}, "mark": {"type": "text", "align": "right", "dx": -1, "baseline": "middle"},
                 "encoding": {"x": {"field": "t", "type": "quantitative", "scale": {"domain": [0, 2540], "nice": false}, "axis": null},
                              "y": {"field": "r", "type": "quantitative", "scale": {"domain": [0, 8], "reverse": true, "nice": false}, "axis": null},
                              "text": {"field": "n"}}},
                {"data": {"name": "labC"}, "transform": [{"filter": "datum.k === 'h'"}], "mark": {"type": "text", "align": "left", "dx": -63, "baseline": "middle"},
                 "encoding": {"x": {"datum": 0, "type": "quantitative"}, "y": {"field": "r", "type": "quantitative"}, "text": {"field": "txt"}}},
                {"data": {"name": "labC"}, "transform": [{"filter": "datum.k === 'r'"}], "mark": {"type": "text", "align": "right", "dx": -13, "baseline": "middle"},
                 "encoding": {"x": {"datum": 0, "type": "quantitative"}, "y": {"field": "r", "type": "quantitative"}, "text": {"field": "txt"}}}
              ]
            }
          ]
        },
        {
          "spacing": 1,
          "resolve": {"scale": {"color": "independent"}, "legend": {"color": "independent"}},
          "vconcat": [
            {
              "width": 279, "height": 129,
              "title": {"text": ["Kaplan–Meier by Brain gEUD at 29.7 Gy", "Log-rank p = 0.032"]},
              "layer": [
                {"data": {"name": "kmD"}, "transform": [{"filter": "datum.g === 'le'"}], "mark": {"type": "area", "interpolate": "step-after", "opacity": 0.3, "fill": "#1f77b4"},
                 "encoding": {"x": {"field": "t", "type": "quantitative", "scale": {"domain": [0, 2560], "nice": false}, "axis": {"values": [0, 500, 1000, 1500, 2000, 2500], "format": "d"}, "title": "Time (days)"},
                              "y": {"field": "lo", "type": "quantitative", "scale": {"domain": [0, 1], "nice": false}, "axis": {"values": [0, 0.2, 0.4, 0.6, 0.8, 1], "labels": false, "titlePadding": 13}, "title": "Survival Probability"},
                              "y2": {"field": "hi"}}},
                {"data": {"name": "kmD"}, "transform": [{"filter": "datum.g === 'gt'"}], "mark": {"type": "area", "interpolate": "step-after", "opacity": 0.3, "fill": "#ff7f0e"},
                 "encoding": {"x": {"field": "t", "type": "quantitative"}, "y": {"field": "lo", "type": "quantitative"}, "y2": {"field": "hi"}}},
                {"data": {"name": "kmD"}, "mark": {"type": "line", "interpolate": "step-after", "strokeWidth": 1.2},
                 "encoding": {"x": {"field": "t", "type": "quantitative"}, "y": {"field": "s", "type": "quantitative"},
                              "color": {"field": "g", "type": "nominal", "scale": {"domain": ["le", "gt"], "range": ["#1f77b4", "#ff7f0e"]},
                                        "legend": {"title": null, "labelExpr": "datum.value === 'le' ? 'Brain gEUD ≤ 29.7' : 'Brain gEUD > 29.7'"}}}},
                {"data": {"name": "cenD"}, "transform": [{"filter": "datum.g === 'le'"}], "mark": {"type": "point", "shape": "M-1,0H1M0,-1V1", "filled": false, "size": 25, "strokeWidth": 1, "opacity": 1, "stroke": "#1f77b4"},
                 "encoding": {"x": {"field": "t", "type": "quantitative"}, "y": {"field": "s", "type": "quantitative"}}},
                {"data": {"name": "cenD"}, "transform": [{"filter": "datum.g === 'gt'"}], "mark": {"type": "point", "shape": "M-1,0H1M0,-1V1", "filled": false, "size": 25, "strokeWidth": 1, "opacity": 1, "stroke": "#ff7f0e"},
                 "encoding": {"x": {"field": "t", "type": "quantitative"}, "y": {"field": "s", "type": "quantitative"}}},
                {"data": {"name": "yticks"}, "mark": {"type": "text", "align": "right", "baseline": "middle", "dx": -3.5, "fontSize": 6, "fill": "#333333"},
                 "encoding": {"x": {"datum": 0, "type": "quantitative"}, "y": {"field": "v", "type": "quantitative"}, "text": {"field": "v", "type": "quantitative", "format": ".1f"}}},
                {"data": {"name": "letters"}, "transform": [{"filter": "datum.p === 'D'"}],
                 "mark": {"type": "text", "dx": -31, "dy": -12, "fontSize": 9.5, "fontWeight": "bold", "fill": "#000000", "align": "center", "baseline": "middle"},
                 "encoding": {"x": {"datum": 0, "type": "quantitative"}, "y": {"datum": 1, "type": "quantitative"}, "text": {"field": "p", "type": "nominal"}}}
              ]
            },
            {
              "width": 279, "height": 57, "view": {"stroke": null},
              "layer": [
                {"data": {"name": "tabD"}, "mark": {"type": "text", "align": "right", "dx": -1, "baseline": "middle"},
                 "encoding": {"x": {"field": "t", "type": "quantitative", "scale": {"domain": [0, 2560], "nice": false}, "axis": null},
                              "y": {"field": "r", "type": "quantitative", "scale": {"domain": [0, 8], "reverse": true, "nice": false}, "axis": null},
                              "text": {"field": "n"}}},
                {"data": {"name": "labD"}, "transform": [{"filter": "datum.k === 'h'"}], "mark": {"type": "text", "align": "left", "dx": -57, "baseline": "middle"},
                 "encoding": {"x": {"datum": 0, "type": "quantitative"}, "y": {"field": "r", "type": "quantitative"}, "text": {"field": "txt"}}},
                {"data": {"name": "labD"}, "transform": [{"filter": "datum.k === 'r'"}], "mark": {"type": "text", "align": "right", "dx": -13, "baseline": "middle"},
                 "encoding": {"x": {"datum": 0, "type": "quantitative"}, "y": {"field": "r", "type": "quantitative"}, "text": {"field": "txt"}}}
              ]
            }
          ]
        }
      ]
    }
  ]
}
